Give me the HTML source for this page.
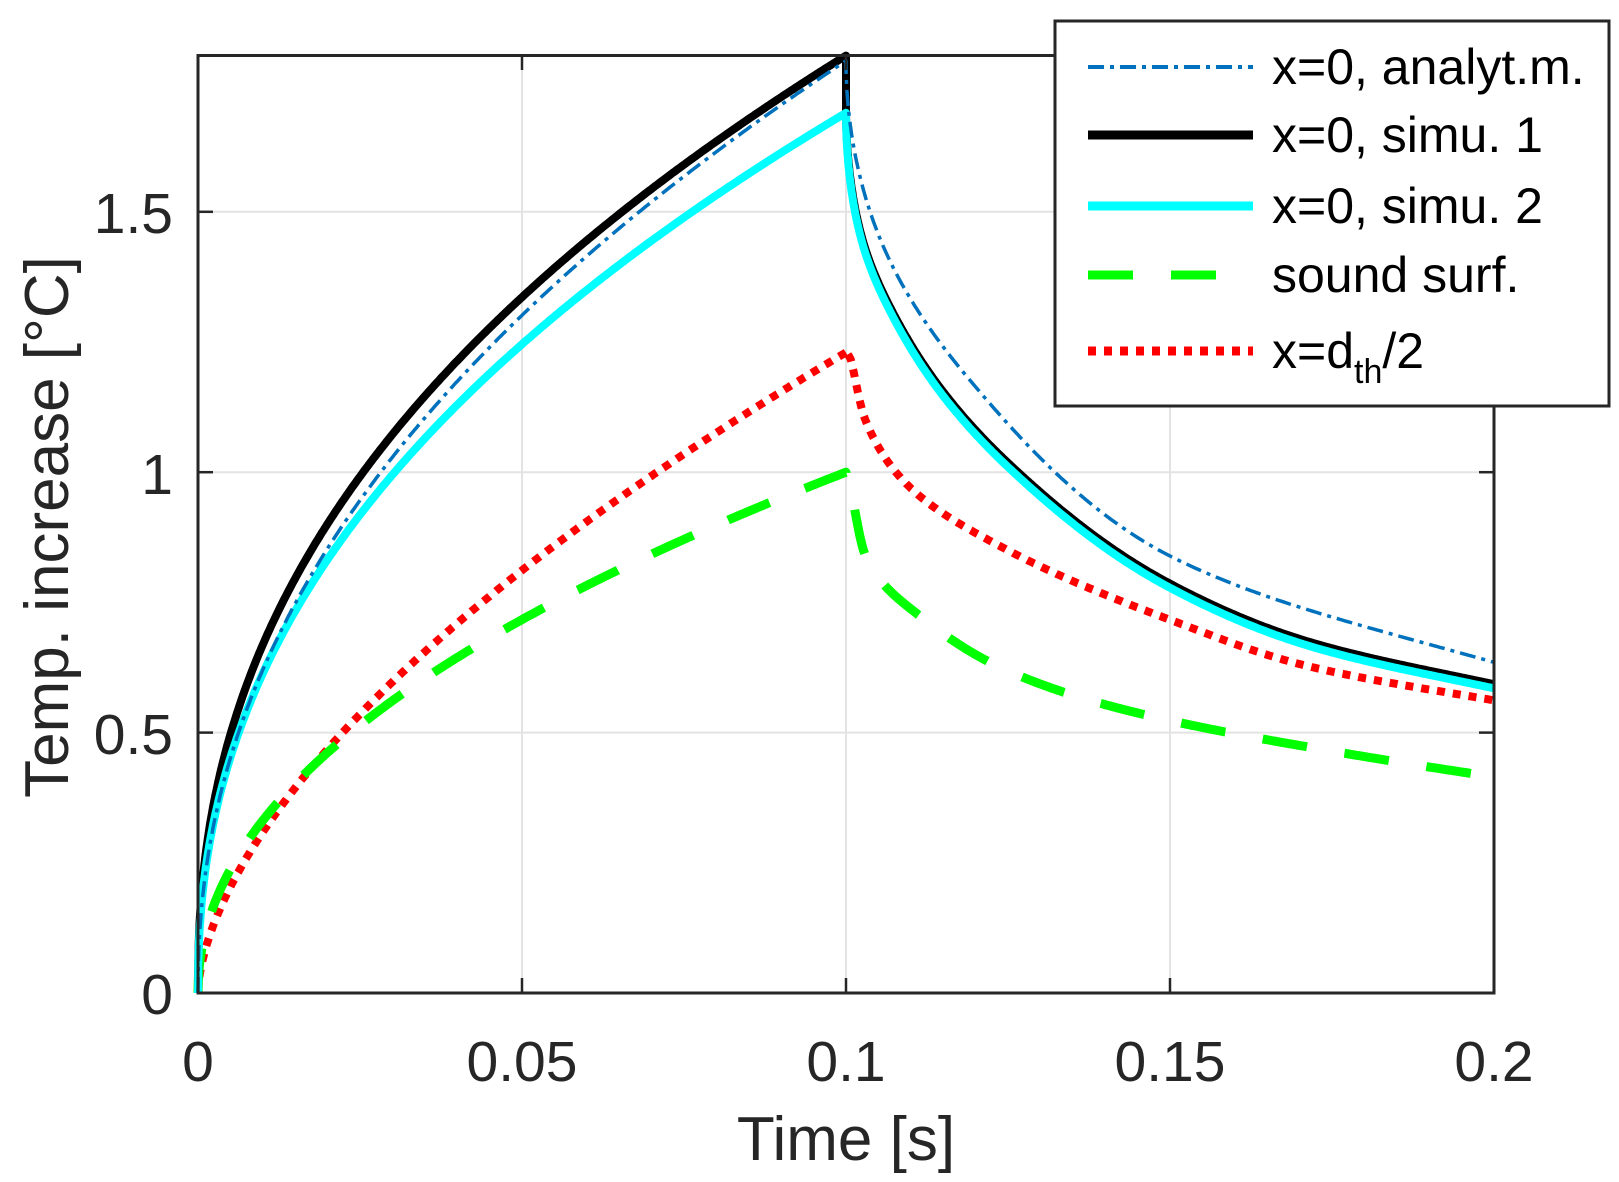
<!DOCTYPE html>
<html><head><meta charset="utf-8"><style>
html,body{margin:0;padding:0;background:#fff;}
svg{display:block;font-family:"Liberation Sans",Arial,sans-serif;}
</style></head><body>
<svg id="s" width="1619" height="1182" viewBox="0 0 1619 1182" xmlns="http://www.w3.org/2000/svg">
<rect width="1619" height="1182" fill="#fff"/>
<g id="grid" stroke="#e3e3e3" stroke-width="2"></g>
<g id="curves" fill="none" stroke-linejoin="round"></g>
<rect x="198" y="55.5" width="1296" height="937.5" fill="none" stroke="#262626" stroke-width="3"/>
<g id="ticks" stroke="#262626" stroke-width="2.5"></g>
<g font-size="57" fill="#262626">
<text x="198" y="1081" text-anchor="middle">0</text>
<text x="522" y="1081" text-anchor="middle">0.05</text>
<text x="846" y="1081" text-anchor="middle">0.1</text>
<text x="1170" y="1081" text-anchor="middle">0.15</text>
<text x="1494" y="1081" text-anchor="middle">0.2</text>
<text x="173" y="1014" text-anchor="end">0</text>
<text x="173" y="754" text-anchor="end">0.5</text>
<text x="173" y="494" text-anchor="end">1</text>
<text x="173" y="233" text-anchor="end">1.5</text>
</g>
<text x="846" y="1160" text-anchor="middle" font-size="62" fill="#262626">Time [s]</text>
<text transform="translate(68,527) rotate(-90)" text-anchor="middle" font-size="62" fill="#262626">Temp. increase [°C]</text>
<rect x="1055" y="21" width="554" height="385" fill="#fff" stroke="#262626" stroke-width="3"/>
<g fill="none">
<line x1="1088" y1="67" x2="1253" y2="67" stroke="#0072bd" stroke-width="4" stroke-dasharray="16,6,4,6"/>
<line x1="1088" y1="135" x2="1253" y2="135" stroke="#000" stroke-width="9"/>
<line x1="1088" y1="206" x2="1253" y2="206" stroke="#00ffff" stroke-width="9"/>
<line x1="1088" y1="275" x2="1253" y2="275" stroke="#00ff00" stroke-width="9" stroke-dasharray="45,38"/>
<line x1="1088" y1="351" x2="1253" y2="351" stroke="#ff0000" stroke-width="9" stroke-dasharray="8,8"/>
</g>
<g font-size="50" fill="#000">
<text x="1272" y="84">x=0, analyt.m.</text>
<text x="1272" y="152">x=0, simu. 1</text>
<text x="1272" y="223">x=0, simu. 2</text>
<text x="1272" y="292">sound surf.</text>
<text x="1272" y="368">x=d<tspan font-size="34" dy="15">th</tspan><tspan dy="-15">/2</tspan></text>
</g>
</svg>
<script>
(function(){
var X=function(t){return 198+t/0.2*1296;};
var Y=function(v){return 993-v*520.8;};
var g=document.getElementById('grid'),tk=document.getElementById('ticks'),c=document.getElementById('curves');
var h='',k='';
[0.05,0.1,0.15].forEach(function(t){var x=X(t);h+='<line x1="'+x+'" y1="55.5" x2="'+x+'" y2="993"/>';k+='<line x1="'+x+'" y1="993" x2="'+x+'" y2="978"/><line x1="'+x+'" y1="55.5" x2="'+x+'" y2="70"/>';});
[0.5,1,1.5].forEach(function(v){var y=Y(v);h+='<line x1="198" y1="'+y+'" x2="1494" y2="'+y+'"/>';k+='<line x1="198" y1="'+y+'" x2="213" y2="'+y+'"/><line x1="1494" y1="'+y+'" x2="1479" y2="'+y+'"/>';});
g.innerHTML=h;tk.innerHTML=k;
// monotone cubic interpolation in u=sqrt(s)
function makeInterp(tab){
 var xs=tab.map(function(p){return Math.sqrt(p[0]);}),ys=tab.map(function(p){return p[1];});
 var n=xs.length,dl=[],m=[];
 for(var i=0;i<n-1;i++)dl.push((ys[i+1]-ys[i])/(xs[i+1]-xs[i]));
 m[0]=dl[0];m[n-1]=dl[n-2];
 for(var i=1;i<n-1;i++){if(dl[i-1]*dl[i]<=0)m[i]=0;else{var w1=2*(xs[i+1]-xs[i])+(xs[i]-xs[i-1]),w2=(xs[i+1]-xs[i])+2*(xs[i]-xs[i-1]);m[i]=(w1+w2)/(w1/dl[i-1]+w2/dl[i]);}}
 return function(s){var u=Math.sqrt(s);var i=0;while(i<n-2&&u>xs[i+1])i++;var hh=xs[i+1]-xs[i],t=(u-xs[i])/hh;if(t>1)t=1;
  var t2=t*t,t3=t2*t;return (2*t3-3*t2+1)*ys[i]+(t3-2*t2+t)*hh*m[i]+(-2*t3+3*t2)*ys[i+1]+(t3-t2)*hh*m[i+1];};
}
var cy=[[0,1.69],[0.0023,1.45],[0.0076,1.29],[0.0154,1.14],[0.025,1.01],[0.0497,0.78],[0.0705,0.67],[0.1,0.585]];
var bl=cy.map(function(p){return [p[0],p[1]+0.008];});
var an=[[0,1.79],[0.0052,1.45],[0.0185,1.186],[0.0497,0.841],[0.1,0.635]];
var rd=[[0,1.235],[0.0006,1.22],[0.003,1.10],[0.0089,0.983],[0.025,0.85],[0.0497,0.718],[0.0705,0.63],[0.1,0.562]];
var gr=[[0,1.0],[0.0008,0.96],[0.003,0.84],[0.012,0.718],[0.023,0.63],[0.0355,0.57],[0.0497,0.524],[0.0738,0.467],[0.1,0.415]];
function mk(pk,ph,tab){var f=makeInterp(tab);return function(t){if(t<=0.1)return pk*Math.pow(t/0.1,ph);return f(t-0.1);};}
var series=[
 {f:mk(1.23,0.6,rd),st:'stroke="#ff0000" stroke-width="8" stroke-dasharray="8,8"'},
 {f:mk(1.0,0.48,gr),st:'stroke="#00ff00" stroke-width="9" stroke-dasharray="45,38"'},
 {f:mk(1.80,0.43,bl),st:'stroke="#000" stroke-width="8"'},
 {f:mk(1.69,0.44,cy),st:'stroke="#00ffff" stroke-width="8"'},
 {f:mk(1.79,0.46,an),st:'stroke="#0072bd" stroke-width="3.5" stroke-dasharray="16,6,4,6"'}
];
var out='';
series.forEach(function(s,i){
 var d='';var N=400;
 for(var j=0;j<=N;j++){var t=0.1*Math.pow(j/N,1.3);d+=(j?'L':'M')+X(t).toFixed(1)+','+Y(s.f(t)).toFixed(1);}
 for(var j=0;j<=N;j++){var t=0.1+0.1*Math.pow(j/N,2);d+='L'+X(t).toFixed(1)+','+Y(s.f(t+1e-9)).toFixed(1);}
 out+='<path d="'+d+'" '+s.st+'/>';
});
c.innerHTML=out;
})();
</script>
</body></html>
